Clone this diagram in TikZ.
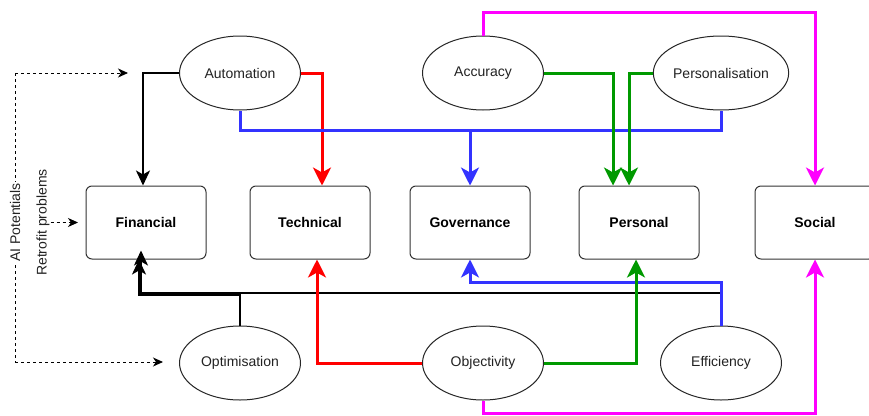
\documentclass[tikz,border=0pt]{standalone}
\usepackage{fontspec}
\setmainfont{Liberation Sans}
\usetikzlibrary{arrows.meta,shapes.geometric}
\definecolor{cred}{HTML}{FF0000}
\definecolor{cblue}{HTML}{3333FF}
\definecolor{cgreen}{HTML}{009900}
\definecolor{cmag}{HTML}{FF00FF}
\definecolor{ctext}{HTML}{222222}
\tikzset{
  area/.style={draw=black!80, line width=1pt, rounded corners=6pt, minimum width=120pt,
    minimum height=73pt, font=\fontsize{14}{16}\selectfont\bfseries, fill=white},
  aspect/.style={draw=black!85, line width=1pt, ellipse, minimum width=121pt,
    minimum height=74pt, inner sep=0pt, font=\fontsize{14}{16}\selectfont, text=ctext, fill=white},
  thicklink/.style={line width=3pt, -{Stealth[length=18pt,width=18pt,inset=5pt]}},
  blacklink/.style={line width=2pt, black, -{Stealth[length=15pt,width=14pt,inset=4pt]}},
  plainthick/.style={line width=3pt},
  dashlink/.style={line width=0.9pt, dash pattern=on 3pt off 3pt, black},
  tip/.style={-{Stealth[length=10pt,width=9pt,inset=3pt]}},
  sidetext/.style={rotate=90, font=\fontsize{14}{16}\selectfont, text=ctext, inner sep=1pt}
}
\begin{document}
\begin{tikzpicture}[x=1pt,y=-1pt]
\useasboundingbox (0,0) rectangle (869,415);

% impact areas
\node[area] (fin) at (146,222.5) {Financial};
\node[area] (tec) at (310,222.5) {Technical};
\node[area] (gov) at (470,222.5) {Governance};
\node[area] (pers) at (639,222.5) {Personal};
\node[area] (soc) at (815,222.5) {Social};

% potentials
\node[aspect] (aut) at (240,73) {Automation};
\node[aspect] (acc) at (483,73) {Accuracy};
\node[aspect] (psn) at (721,73) {Personalisation};
\node[aspect] (opt) at (240,363) {Optimisation};
\node[aspect] (obj) at (483,363) {Objectivity};
\node[aspect] (eff) at (721,363) {Efficiency};

% bend points
\coordinate (bluetop) at (470,130);
\coordinate (magtop) at (815,12);
\coordinate (bluebot) at (470,282);
\coordinate (blkA) at (139,295);
\coordinate (blkB) at (141,293);
\coordinate (magbot) at (815,413);

% links from the upper row
\draw[blacklink] (aut.west) -| ([xshift=-3pt]fin.north);
\draw[thicklink, cred] (aut.east) -| ([xshift=12pt]tec.north);
\draw[plainthick, cblue] (psn.south) |- (bluetop);
\draw[thicklink, cblue] (aut.south) |- (bluetop) -- (gov.north);
\draw[thicklink, cgreen] (acc.east) -| ([xshift=-26pt]pers.north);
\draw[thicklink, cgreen] (psn.west) -| ([xshift=-10pt]pers.north);
\draw[thicklink, cmag] (acc.north) |- (magtop) -- (soc.north);

% links from the lower row
\draw[blacklink] (eff.north) |- (blkB) -- ([xshift=-5pt,yshift=9pt]fin.south);
\draw[blacklink] (opt.north) |- (blkA) -- ([xshift=-7pt]fin.south);
\draw[thicklink, cblue] (eff.north) |- (bluebot) -- (gov.south);
\draw[thicklink, cred] (obj.west) -| ([xshift=7pt]tec.south);
\draw[thicklink, cgreen] (obj.east) -| ([xshift=-3pt]pers.south);
\draw[thicklink, cmag] (obj.south) |- (magbot) -- (soc.south);

% AI potentials bracket
\coordinate (dtop) at (15,73);
\coordinate (dbot) at (15,362);
\coordinate (dA) at (128,73);
\coordinate (dB) at (163,362);
\draw[dashlink, tip] (dtop) -- (dA);
\draw[dashlink, tip] (dbot) -- (dB);
\draw[dashlink] (dtop) -- (dbot);
\node[sidetext, fill=white] (ai) at (15,222.5) {AI Potentials};

% retrofit problems
\node[sidetext] (rp) at (43,222.5) {Retrofit problems};
\coordinate (rpend) at (78,222.5);
\draw[dashlink, tip] (rp.south) -- (rpend);
\end{tikzpicture}
\end{document}
